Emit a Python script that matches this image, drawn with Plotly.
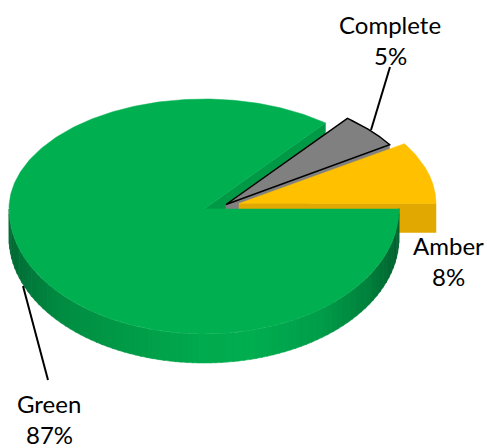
import numpy as np
import plotly.graph_objects as go

categories = ["Amber", "Complete", "Green"]
values = [8, 5, 87]
percent_labels = ["8%", "5%", "87%"]

W, H = 487, 448
DEPTH = 29
RY_BACK, RY_FRONT = 110, 125
TILT = 1.18  # perspective widening of slice angles near the back

GREEN_TOP, GREEN_CUT = "#00B050", "#009A46"
AMBER_TOP, AMBER_CUT = "#FFC000", "#E0A800"
GREY_TOP = "#808080"

centres = {"Amber": (239, 203.5, 197), "Complete": (226, 204.5, 195), "Green": (204, 209, 195)}

total = sum(values)
edges = np.concatenate([[0], np.cumsum(values)]) / total * 2 * np.pi
spans = {c: (edges[i], edges[i + 1]) for i, c in enumerate(categories)}


def project(t, cx, cy, rx, drop=0):
    t = np.asarray(t, dtype=float)
    phi = np.arctan2(TILT * np.sin(t), np.cos(t))
    ry = np.where(np.sin(phi) > 0, RY_BACK, RY_FRONT)
    return cx + rx * np.cos(phi), cy - ry * np.sin(phi) + drop


def poly(xs, ys, fill, line=None, width=0):
    return go.Scatter(
        x=list(xs), y=list(ys), mode="lines", fill="toself", fillcolor=fill,
        line=dict(color=line or fill, width=width if line else 0.5),
        hoverinfo="skip", showlegend=False,
    )


def top_face(name, fill, line=None, width=0):
    a, b = spans[name]
    cx, cy, rx = centres[name]
    x, y = project(np.linspace(a, b, 361), cx, cy, rx)
    return poly(np.r_[cx, x, cx], np.r_[cy, y, cy], fill, line, width)


def cut_face(name, t, fill):
    cx, cy, rx = centres[name]
    x, y = project(t, cx, cy, rx)
    return poly([cx, x, x, cx, cx], [cy, y, y + DEPTH, cy + DEPTH, cy], fill)


fig = go.Figure()
fig.add_trace(cut_face("Green", spans["Green"][0], GREEN_CUT))
fig.add_trace(cut_face("Complete", spans["Complete"][0], GREY_TOP))
fig.add_trace(top_face("Complete", GREY_TOP, "#000000", 1.5))
fig.add_trace(cut_face("Amber", spans["Amber"][0], AMBER_CUT))
fig.add_trace(top_face("Amber", AMBER_TOP))

# Rim of the green slice, shaded in strips
gx, gy, grx = centres["Green"]
stop_x = [8, 25, 60, 130, 200, 250, 320, 370, 398]
stop_g = [(0, 104, 50), (0, 118, 58), (0, 140, 66), (0, 156, 72), (0, 170, 78),
          (0, 174, 80), (0, 158, 74), (0, 128, 60), (0, 98, 48)]
rim = np.linspace(np.pi, 2 * np.pi, 91)
for a, b in zip(rim[:-1], rim[1:]):
    seg = np.linspace(a, b + 0.004, 4)
    x, y = project(seg, gx, gy, grx)
    xm = x.mean()
    rgb = [int(np.interp(xm, stop_x, [c[k] for c in stop_g])) for k in range(3)]
    fig.add_trace(poly(np.r_[x, x[::-1], x[0]], np.r_[y, y[::-1] + DEPTH, y[0]],
                       f"rgb({rgb[0]},{rgb[1]},{rgb[2]})"))
fig.add_trace(top_face("Green", GREEN_TOP))

label_pos = {"Complete": (390, 24), "Amber": (448, 245), "Green": (49, 403)}
for c, p in zip(categories, percent_labels):
    lx, ly = label_pos[c]
    for txt, yy in ((c, ly), (p, ly + 31)):
        fig.add_annotation(x=lx, y=yy, text=txt, showarrow=False, xanchor="center", yanchor="middle",
                           font=dict(family="Lato, Carlito, Calibri, sans-serif", size=24, color="#000000"))

for x0, y0, x1, y1 in [(371, 130, 390, 67), (23, 286, 48, 380)]:
    fig.add_shape(type="line", x0=x0, y0=y0, x1=x1, y1=y1, line=dict(color="#000000", width=2))

fig.update_layout(
    width=W, height=H, margin=dict(l=0, r=0, t=0, b=0),
    paper_bgcolor="#FFFFFF", plot_bgcolor="#FFFFFF", showlegend=False,
    xaxis=dict(range=[0, W], visible=False, fixedrange=True),
    yaxis=dict(range=[H, 0], visible=False, fixedrange=True),
)
fig.write_html("out.html", config={"displayModeBar": False},
               post_script="document.body.style.margin='0';document.body.style.overflow='hidden';")
